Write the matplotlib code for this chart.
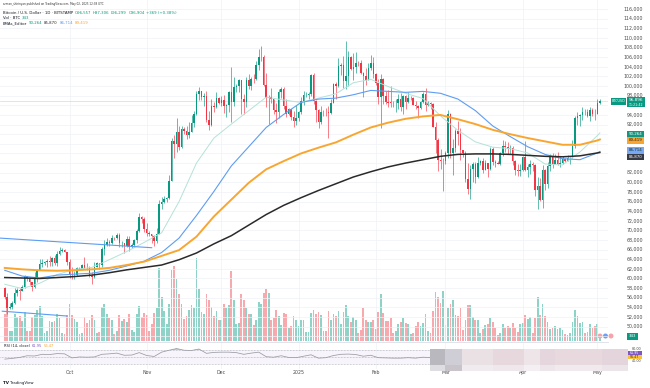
import matplotlib
matplotlib.use("Agg")
import matplotlib.pyplot as plt
import matplotlib.dates as mdates
from matplotlib.patches import Rectangle, Ellipse
import numpy as np
import pandas as pd

# ---- daily candles BTC/USD (Bitstamp), prices in thousands of USD ----
start_day = "2024-09-05"
first_open = 57.97

close = [
    # Sep
    56.16, 53.95, 54.16, 54.87, 57.05, 57.64, 57.34, 58.13, 60.57, 60.01, 59.18, 58.21, 60.31,
    61.76, 62.95, 63.20, 63.35, 63.58, 63.33, 64.26, 63.15, 65.18, 65.79, 65.88, 65.60, 63.33,
    # Oct
    60.80, 60.63, 60.75, 62.09, 62.05, 62.82, 62.22, 62.13, 60.58, 60.28, 62.45, 63.19, 62.85, 66.05,
    67.04, 67.62, 67.37, 68.43, 68.36, 69.00, 67.37, 67.38, 66.68, 68.16, 66.64, 67.01, 67.93, 69.90,
    72.72, 72.34, 70.22,
    # Nov
    69.48, 69.29, 68.74, 67.81, 69.35, 75.58, 75.86, 76.51, 76.69, 80.37, 88.65, 87.95, 90.40, 87.25,
    91.06, 90.57, 89.85, 90.46, 92.31, 94.29, 98.40, 98.92, 97.67, 97.90, 93.01, 91.96, 95.86, 95.65,
    97.46, 96.41,
    # Dec
    97.19, 95.84, 96.00, 98.77, 96.59, 99.90, 99.92, 101.17, 97.32, 96.60, 101.17, 100.04, 101.42,
    101.37, 104.30, 106.06, 106.14, 100.20, 97.46, 97.76, 97.22, 95.10, 94.69, 98.68, 99.40, 95.82,
    94.16, 95.16, 93.54, 92.64, 93.43,
    # Jan
    94.59, 96.89, 98.11, 98.24, 98.35, 102.26, 96.93, 95.04, 92.50, 94.70, 94.56, 94.52, 94.50, 96.53,
    100.50, 99.99, 104.08, 104.41, 101.09, 102.02, 106.15, 103.65, 103.96, 104.82, 104.71, 102.62,
    102.08, 101.32, 103.73, 104.73, 102.43,
    # Feb
    100.65, 97.69, 101.40, 97.87, 96.62, 96.55, 96.53, 96.48, 96.50, 97.40, 95.75, 97.87, 96.61, 97.51,
    97.57, 96.12, 95.77, 95.54, 96.64, 98.33, 96.13, 96.58, 96.29, 91.55, 88.70, 84.70, 84.37, 84.37,
    # Mar
    86.03, 94.26, 86.10, 87.20, 90.60, 89.96, 86.74, 86.15, 80.70, 78.59, 82.86, 83.70, 81.10, 83.98,
    84.34, 82.58, 84.05, 82.71, 86.85, 84.17, 84.04, 83.83, 86.07, 87.50, 87.40, 86.90, 87.23, 84.35,
    82.65, 82.39, 82.55,
    # Apr
    85.16, 82.51, 83.10, 83.85, 83.50, 78.37, 79.14, 76.30, 82.60, 79.60, 83.40, 85.30, 83.70, 84.55,
    83.70, 84.03, 84.90, 84.45, 85.05, 85.15, 87.50, 93.44, 93.70, 93.95, 94.70, 94.65, 93.75, 94.98,
    94.28, 94.20,
    # May
    96.49, 96.90,
]

high = [
    58.30, 56.98, 54.85, 55.30, 58.10, 58.04, 57.99, 58.60, 60.65, 60.61, 60.38, 59.21, 61.33,
    62.00, 64.13, 64.07, 63.55, 64.00, 64.73, 64.50, 64.80, 65.80, 66.50, 66.26, 66.08, 65.60,
    64.13, 62.40, 61.47, 62.48, 62.37, 62.98, 64.50, 63.18, 62.50, 61.30, 63.42, 63.48, 63.30, 66.50,
    67.90, 68.42, 67.90, 68.98, 68.68, 69.40, 69.50, 67.85, 67.45, 68.80, 68.73, 67.40, 68.26, 70.25,
    73.62, 72.95, 72.70,
    71.60, 69.90, 69.35, 69.00, 70.55, 76.40, 76.90, 77.20, 76.95, 81.48, 89.20, 89.90, 93.45, 91.75,
    91.80, 91.45, 91.70, 92.50, 94.00, 94.90, 98.98, 99.80, 98.80, 98.60, 98.90, 94.75, 97.30, 96.60,
    98.70, 97.75,
    97.90, 98.20, 96.30, 99.00, 104.00, 101.90, 100.50, 101.40, 101.25, 98.30, 101.90, 102.50, 101.90,
    102.60, 105.25, 107.80, 108.35, 106.50, 102.80, 98.20, 99.50, 97.30, 96.40, 99.40, 99.90, 99.90,
    97.30, 95.50, 95.20, 94.90, 96.10,
    94.90, 97.80, 98.90, 98.70, 98.80, 102.50, 102.70, 97.20, 95.30, 95.80, 94.95, 95.40, 95.90, 97.30,
    100.70, 100.80, 105.90, 104.90, 106.30, 109.35, 107.20, 106.30, 106.80, 107.10, 105.30, 105.50,
    103.00, 103.70, 104.80, 106.40, 106.00,
    102.80, 101.50, 102.50, 101.70, 99.00, 99.10, 100.10, 96.90, 97.30, 98.30, 98.50, 98.10, 98.10,
    98.80, 97.90, 97.70, 97.00, 96.00, 96.90, 98.70, 99.50, 96.90, 96.60, 96.50, 92.50, 89.30, 87.00,
    85.00,
    86.50, 95.00, 94.40, 88.90, 91.00, 92.80, 91.20, 86.80, 86.50, 84.00, 83.60, 84.30, 84.30, 85.30,
    84.70, 85.00, 84.70, 83.90, 87.40, 87.40, 84.70, 84.50, 86.20, 88.70, 88.50, 88.30, 87.80, 87.50,
    84.60, 83.90, 83.90,
    85.50, 88.50, 83.90, 84.70, 84.20, 83.70, 81.20, 80.80, 83.50, 82.70, 84.20, 85.90, 86.10, 85.80,
    86.40, 85.50, 85.40, 85.00, 85.60, 85.30, 88.80, 93.80, 94.70, 94.10, 95.70, 95.20, 95.30, 95.60,
    95.40, 95.20,
    97.40, 97.30,
]

low = [
    55.65, 52.55, 53.74, 53.65, 54.60, 56.40, 55.55, 57.33, 57.99, 59.43, 58.70, 57.50, 57.99,
    59.20, 61.70, 62.35, 62.77, 62.38, 62.64, 62.70, 62.88, 62.68, 64.85, 65.42, 65.45, 62.90,
    60.20, 59.97, 59.86, 60.46, 61.70, 61.90, 62.12, 61.83, 60.35, 58.90, 60.05, 62.45, 62.05, 62.42,
    64.80, 66.80, 66.70, 67.18, 68.05, 68.12, 66.60, 66.58, 65.27, 66.45, 65.74, 66.44, 66.80, 67.40,
    69.72, 71.45, 69.70,
    68.85, 68.80, 67.48, 66.80, 67.45, 69.35, 74.50, 75.60, 75.80, 76.50, 80.20, 85.10, 86.20, 86.70,
    87.10, 90.00, 88.90, 89.30, 90.80, 91.50, 94.00, 97.20, 97.20, 95.80, 92.60, 90.80, 91.80, 94.70,
    95.40, 96.20,
    95.80, 94.50, 93.60, 94.70, 92.50, 95.90, 98.80, 98.80, 94.20, 94.30, 95.70, 99.30, 99.20,
    100.60, 101.20, 103.30, 105.30, 100.00, 95.70, 92.20, 96.40, 94.20, 92.40, 93.40, 97.60, 95.20,
    93.50, 94.00, 93.00, 91.40, 92.00,
    92.80, 94.30, 96.00, 97.80, 97.30, 97.90, 96.20, 92.50, 91.20, 92.20, 93.80, 93.70, 89.25, 94.30,
    96.50, 97.30, 99.90, 102.30, 99.50, 99.40, 100.10, 103.30, 101.30, 102.80, 104.10, 102.50,
    97.80, 100.30, 101.30, 103.30, 101.60,
    100.30, 96.20, 91.20, 96.20, 96.20, 95.70, 95.70, 95.70, 94.70, 95.30, 94.90, 94.10, 95.30,
    96.40, 97.10, 96.00, 95.20, 93.40, 95.20, 96.50, 94.80, 95.80, 95.30, 91.40, 86.10, 82.30, 82.80,
    78.20,
    83.70, 85.10, 85.10, 81.50, 86.30, 87.80, 84.70, 85.30, 80.00, 77.50, 76.60, 80.00, 79.90, 80.80,
    83.60, 82.00, 82.50, 81.20, 82.50, 83.60, 83.20, 83.70, 83.50, 85.50, 86.30, 85.90, 85.80, 83.60,
    81.60, 81.40, 81.30,
    82.40, 82.30, 81.20, 81.70, 82.40, 77.20, 74.50, 76.20, 74.60, 78.40, 78.90, 82.30, 83.00, 83.70,
    83.50, 83.10, 83.80, 84.20, 84.40, 83.90, 85.10, 87.10, 91.90, 91.70, 92.90, 93.90, 93.60, 92.80,
    93.80, 92.90,
    94.10, 96.30,
]

# volume, thousands of BTC
volume = [
    2.6, 3.8, 1.0, 1.0, 2.6, 2.3, 2.4, 1.9, 2.8, 1.0, 1.0, 2.3, 2.5, 3.0, 3.4, 2.4, 0.8, 1.0, 1.9,
    1.8, 1.9, 2.6, 2.2, 0.8, 0.7, 2.5,
    3.6, 2.5, 2.1, 1.8, 0.7, 0.8, 2.3, 1.7, 2.0, 2.5, 2.0, 0.8, 0.9, 3.3, 3.6, 2.6, 2.2, 2.0, 0.7,
    1.0, 2.5, 1.9, 2.1, 1.8, 2.6, 1.1, 0.9, 2.6, 3.4, 2.3, 2.7,
    2.5, 1.0, 1.6, 2.7, 3.2, 7.0, 4.2, 2.9, 1.6, 3.6, 6.8, 7.2, 6.0, 4.5, 3.6, 2.1, 2.4, 3.0, 3.5,
    3.2, 8.0, 5.0, 2.8, 2.6, 4.5, 4.0, 3.3, 2.4, 2.9, 2.0,
    2.0, 3.6, 3.2, 3.5, 6.7, 4.0, 1.6, 1.7, 4.5, 4.0, 3.2, 2.6, 2.6, 1.5, 2.0, 3.8, 3.6, 4.6, 5.0,
    4.6, 2.0, 2.2, 3.0, 2.4, 1.5, 2.7, 2.6, 1.3, 1.4, 2.4, 2.0,
    1.4, 2.0, 2.0, 0.9, 0.9, 2.7, 3.0, 2.6, 2.8, 2.5, 1.0, 1.0, 2.9, 2.0, 2.6, 2.4, 2.9, 1.6, 2.8,
    3.5, 2.4, 1.8, 2.3, 2.0, 0.8, 1.1, 3.2, 2.0, 1.8, 1.8, 2.0,
    1.2, 2.8, 4.5, 2.7, 1.9, 1.9, 2.2, 0.8, 1.0, 1.6, 1.8, 2.2, 1.7, 1.6, 0.7, 0.8, 1.4, 1.8, 1.4,
    1.7, 2.6, 1.0, 0.8, 2.9, 4.7, 4.2, 3.7, 4.8,
    1.5, 3.2, 3.6, 4.0, 2.5, 2.4, 3.2, 1.1, 2.0, 3.5, 3.5, 2.3, 2.0, 2.0, 0.8, 1.2, 1.5, 1.6, 2.2,
    1.8, 1.3, 0.6, 0.8, 1.6, 1.3, 1.4, 1.3, 1.7, 1.3, 0.9, 1.6,
    1.7, 2.5, 2.1, 2.3, 0.8, 2.2, 4.2, 2.5, 3.6, 2.4, 1.8, 1.2, 1.3, 1.4, 1.2, 1.3, 1.1, 0.7, 0.6,
    0.8, 1.8, 3.0, 2.4, 1.7, 1.8, 0.8, 0.9, 1.6, 1.3, 1.4,
    1.6, 0.343,
]

# EMA lines (thousands)
ema_days = list(pd.date_range("2024-09-05", "2025-05-01", freq="7D")) + [pd.Timestamp("2025-05-02")]
ema20 = [58.8, 57.9, 59.0, 60.8, 61.9, 62.3, 63.9, 65.6, 67.5, 69.5, 76.0, 84.0, 89.2, 92.1, 94.9, 97.7,
         97.1, 96.6, 97.5, 98.4, 100.7, 101.4, 99.9, 98.5, 97.4, 93.8, 90.8, 88.4, 87.3, 87.0, 86.1, 83.8,
         83.6, 86.3, 89.7, 90.26]
ema50 = [61.7, 60.5, 60.1, 60.7, 60.9, 61.1, 61.7, 62.6, 63.6, 65.4, 68.4, 73.1, 78.1, 83.4, 87.4, 91.4,
         94.1, 96.6, 97.3, 97.5, 98.2, 99.1, 98.9, 98.7, 98.9, 98.5, 97.3, 94.9, 91.7, 89.5, 87.4, 85.8,
         84.9, 84.7, 86.1, 86.4]
ema100 = [62.2, 61.9, 61.7, 61.6, 61.7, 61.9, 62.2, 62.8, 63.5, 64.7, 65.9, 68.7, 72.9, 76.4, 79.9, 82.7,
          84.4, 86.0, 87.2, 88.3, 89.9, 91.4, 92.4, 93.2, 93.7, 94.0, 93.1, 92.1, 90.9, 90.0, 89.2, 88.5,
          87.8, 87.8, 88.7, 88.9]
ema200 = [60.2, 60.1, 60.0, 60.2, 60.4, 60.7, 61.2, 61.8, 62.3, 62.8, 63.9, 65.3, 67.2, 68.9, 71.1, 73.3,
          75.2, 76.8, 78.3, 79.7, 81.1, 82.2, 83.2, 84.0, 84.7, 85.4, 85.8, 85.9, 85.9, 85.8, 85.6, 85.4,
          85.3, 85.5, 86.1, 86.2]

# RSI(14) read every 3 days
rsi_days = pd.date_range("2024-09-05", "2025-03-01", freq="3D")
rsi = [42, 45, 49, 56, 55, 62, 61, 65, 64,
       47, 51, 50, 51, 62, 64, 67, 58, 59, 69,
       57, 53, 71, 79, 86, 79, 78, 84, 66, 70,
       71, 71, 69, 62, 67, 71, 52, 50, 56, 49, 48,
       54, 60, 46, 48, 57, 62, 63, 61, 54, 58,
       48, 47, 46, 46, 48, 46, 50, 48, 32, 38]

# hand-drawn trend lines (date, price k)
trendlines = [("2024-09-03", 68.4, "2024-11-03", 66.4),
              ("2024-09-04", 53.2, "2024-09-30", 52.2)]

last_price = 96896
month_ticks = ["2024-10-01", "2024-11-01", "2024-12-01", "2025-01-01",
               "2025-02-01", "2025-03-01", "2025-04-01", "2025-05-01"]
month_labels = ["Oct", "Nov", "Dec", "2025", "Feb", "Mar", "Apr", "May"]
price_ticks = list(range(48000, 116001, 2000))
# scale labels hidden behind the value boxes on the price scale
hidden_ticks = [48000, 84000, 86000, 88000, 90000, 96000]

# ---- prepare ----
days = pd.date_range(start_day, periods=len(close), freq="D")
x = mdates.date2num(days)
c = np.array(close) * 1000
o = np.r_[first_open, close[:-1]] * 1000
hi = np.maximum(np.array(high) * 1000, np.maximum(o, c))
lo = np.minimum(np.array(low) * 1000, np.minimum(o, c))
up = c >= o
UP, DN = "#089981", "#f23645"
col = np.where(up, UP, DN)

W, H = 650, 388
fig = plt.figure(figsize=(W / 100, H / 100), dpi=100)
fig.patch.set_facecolor("white")


def fx(px):
    return px / W


def fy(py):
    return 1 - py / H


PANE_R = 608
PXK = 4.81  # pixels per 1000 USD
ax = fig.add_axes([0, fy(341), fx(PANE_R), 341 / H])
axv = ax.twinx()
ax.set_zorder(axv.get_zorder() + 1)
ax.patch.set_visible(False)

oct1 = mdates.date2num(pd.Timestamp("2024-10-01"))
ppd = 2.49
xlim = (oct1 - 69.5 / ppd, oct1 + (PANE_R - 69.5) / ppd)
ax.set_xlim(*xlim)
ax.set_ylim((96.9 - 240 / PXK) * 1000, (96.9 + 101 / PXK) * 1000)

# volume
axv.set_ylim(0, 8.0 * 341 / 83)
axv.bar(x, volume, width=0.72, color=np.where(up, "#8fd3c8", "#f8a9ad"), linewidth=0)
axv.set_yticks([])
axv.tick_params(right=False, labelright=False)

# grid
ax.set_yticks(price_ticks)
ax.set_xticks(mdates.date2num(pd.to_datetime(month_ticks)))
ax.grid(True, color="#eef1f6", lw=0.5, zorder=0)
ax.tick_params(length=0, labelbottom=False, labelleft=False, labelright=False)
for s in list(ax.spines.values()) + list(axv.spines.values()):
    s.set_visible(False)

# candles
ax.vlines(x, lo, hi, colors=col, linewidth=0.45, zorder=3)
ax.bar(x, np.maximum(np.abs(c - o), 60), bottom=np.minimum(o, c), width=0.62,
       color=col, linewidth=0, zorder=3)

# EMAs and drawings
ex = mdates.date2num(pd.DatetimeIndex(ema_days))
ax.plot(ex, np.array(ema20) * 1000, color="#b4e2d8", lw=0.7, zorder=4)
ax.plot(ex, np.array(ema50) * 1000, color="#5e9df2", lw=0.8, zorder=4)
ax.plot(ex, np.array(ema100) * 1000, color="#f9a630", lw=1.4, zorder=4)
ax.plot(ex, np.array(ema200) * 1000, color="#2a2a2a", lw=1.1, zorder=4)
for d0, p0, d1, p1 in trendlines:
    ax.plot(mdates.date2num(pd.to_datetime([d0, d1])), [p0 * 1000, p1 * 1000],
            color="#5b9cf6", lw=0.8, zorder=4)
ax.axhline(last_price, color=UP, lw=0.4, alpha=0.3, zorder=2)

# price scale
ytr = ax.get_yaxis_transform()
for p in price_ticks:
    if p in hidden_ticks:
        continue
    ax.text(643 / PANE_R, p, f"{p:,}", transform=ytr, ha="right", va="center",
            fontsize=3.4, color="#4c4c4c", clip_on=False)


def scale_box(x0, x1, value, h_px, fc, txt, tc, size=2.9):
    hv = h_px / PXK * 1000
    ax.add_patch(Rectangle((x0 / PANE_R, value - hv / 2), (x1 - x0) / PANE_R, hv, transform=ytr,
                           fc=fc, ec="none", clip_on=False, zorder=10))
    if txt:
        ax.text((x0 + x1) / 2 / PANE_R, value, txt, transform=ytr, ha="center", va="center",
                fontsize=size, color=tc, clip_on=False, zorder=11)


def px_shift(value, dpx):
    # move a label dpx pixels down from its value on the price scale
    return value - dpx / PXK * 1000


scale_box(611, 626, last_price, 7, UP, "BTCUSD", "white", 2.4)
scale_box(627, 645, px_shift(last_price, 1), 10, UP, "", "white")
ax.text(636 / PANE_R, px_shift(last_price, -1.2), "96,896", transform=ytr, ha="center",
        va="center", fontsize=3.1, color="white", clip_on=False, zorder=11)
ax.text(636 / PANE_R, px_shift(last_price, 3.6), "11:21:42", transform=ytr, ha="center",
        va="center", fontsize=2.3, color="white", clip_on=False, zorder=11)
scale_box(627, 644, px_shift(90264, 1.0), 6.5, "#12967d", "90,264", "white")
scale_box(627, 644, px_shift(90264, 7.5), 6.5, "#f9a630", "89,419", "#222")
scale_box(627, 644, px_shift(86714, 0.5), 6.5, "#7aa7f3", "86,714", "#132")
scale_box(627, 644, px_shift(86714, 7.0), 6.5, "#363a45", "85,870", "white")

# volume value + event markers
fig.add_artist(Rectangle((fx(627), fy(339.5)), fx(11), 6.5 / H, transform=fig.transFigure,
                         fc=UP, ec="none"))
fig.text(fx(632.5), fy(336.2), "343", fontsize=2.8, color="white", ha="center", va="center")
for ex_px, ecol in [(600, "#f7a3aa"), (605.5, "#6f9ef5"), (611, "#f7a3aa")]:
    fig.add_artist(Ellipse((fx(ex_px), fy(336)), fx(5), 5 / H, transform=fig.transFigure,
                           fc=ecol, ec="none"))

# ---- RSI pane ----
rax = fig.add_axes([0, fy(369), fx(PANE_R), 27 / H])
rax.set_xlim(*xlim)
rax.set_ylim(0.8, 113.3)
rax.axhspan(20, 80, color="#7e57c2", alpha=0.06, lw=0)
for lv in (80, 50, 20):
    rax.axhline(lv, color="#a0a3ab", lw=0.45, ls=(0, (1.2, 1.2)))
rx = mdates.date2num(rsi_days)
rv = np.array(rsi, dtype=float)
rax.plot(rx, rv, color="#9a9aa2", lw=0.55)
rax.fill_between(rx, 80, rv, where=rv > 80, interpolate=True, color="#26a69a", alpha=0.4, lw=0)
rax.set_xticks(mdates.date2num(pd.to_datetime(month_ticks)))
rax.set_xticklabels(month_labels)
rax.tick_params(axis="x", length=0, pad=1.0, labelsize=3.4, labelcolor="#4c4c4c")
rax.set_yticks([])
rax.grid(True, axis="x", color="#eef1f6", lw=0.5)
for k, s in rax.spines.items():
    s.set_visible(k == "top")
rax.spines["top"].set_color("#e0e3eb")
rax.spines["top"].set_linewidth(0.6)
fig.text(fx(641), fy(349.3), "80.00", fontsize=2.4, color="#4c4c4c", ha="right", va="center")
fig.text(fx(641), fy(361.2), "40.00", fontsize=2.4, color="#4c4c4c", ha="right", va="center")
fig.add_artist(Rectangle((fx(627), fy(355.2)), fx(15), 3.8 / H, transform=fig.transFigure,
                         fc="#7e57c2", ec="none"))
fig.text(fx(634.5), fy(353.3), "61.95", fontsize=2.3, color="white", ha="center", va="center")
fig.add_artist(Rectangle((fx(627), fy(359.0)), fx(15), 3.8 / H, transform=fig.transFigure,
                         fc="#f9c23c", ec="none"))
fig.text(fx(634.5), fy(357.1), "56.47", fontsize=2.3, color="#333", ha="center", va="center")

# pixelated block over the right side of the RSI pane
cols = [430, 445, 462, 493, 524, 540, 555, 602, 628]
top_colors = ["#b9b8bf", "#cfcdd6", "#e9e1e3", "#e6d8dd", "#ede5e8", "#e4d6dc", "#e8d9de", "#e3d5db"]
bot_colors = ["#dedde2", "#c9c4c9", "#efebee", "#eee8ec", "#f3eff2", "#ece6ea", "#f0eaee", "#ebe5e9"]
for i in range(len(cols) - 1):
    fig.add_artist(Rectangle((fx(cols[i]), fy(365)), fx(cols[i + 1] - cols[i]), 16 / H,
                             transform=fig.transFigure, fc=top_colors[i], ec="none"))
    fig.add_artist(Rectangle((fx(cols[i]), fy(371)), fx(cols[i + 1] - cols[i]), 6 / H,
                             transform=fig.transFigure, fc=bot_colors[i], ec="none"))

# ---- legend text ----
renderer = fig.canvas.get_renderer()


def seg_text(x_px, y_px, parts, size):
    xx = x_px
    for s, cc in parts:
        t = fig.text(fx(xx), fy(y_px), s, color=cc, fontsize=size, ha="left", va="center")
        xx += t.get_window_extent(renderer=renderer).width + 1.6


DARK = "#131722"
fig.text(fx(3), fy(4), "arman_shirinyan published on TradingView.com, May 02, 2025 12:38 UTC",
         fontsize=2.0, color="#333", ha="left", va="center")
seg_text(3, 12.7, [("Bitcoin / U.S. Dollar · 1D · BITSTAMP", DARK), ("O96,557", UP), ("H97,306", UP),
                   ("L96,299", UP), ("C96,904", UP), ("+369 (+0.38%)", UP)], 2.8)
seg_text(3, 17.8, [("Vol · BTC", DARK), ("343", UP)], 2.8)
seg_text(3, 23.3, [("EMAs_Editor", DARK), ("90,264", UP), ("85,870", "#2a2a2a"),
                   ("86,714", "#5e9df2"), ("89,419", "#f9a630")], 2.8)
seg_text(4, 345.8, [("RSI (14, close)", DARK), ("61.95", "#7e57c2"), ("56.47", "#f9a630")], 2.6)

# pane separator and footer
fig.add_artist(plt.Line2D([0, fx(PANE_R)], [fy(341.5), fy(341.5)], transform=fig.transFigure,
                          color="#e0e3eb", lw=0.6))
fig.text(fx(3), fy(382.7), "TV", fontsize=3.0, color=DARK, ha="left", va="center", weight="bold")
fig.text(fx(10), fy(382.7), "TradingView", fontsize=2.8, color=DARK, ha="left", va="center")

fig.savefig("out.png", dpi=100)
